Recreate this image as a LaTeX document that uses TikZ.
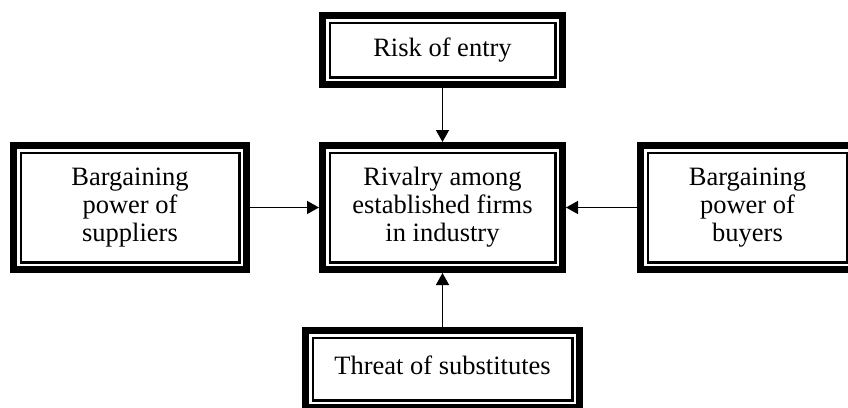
\documentclass[tikz,border=0pt]{standalone}
\usepackage{fontspec}
\setmainfont{Liberation Serif}
\usetikzlibrary{arrows.meta}
\begin{document}
\begin{tikzpicture}[x=1pt,y=-1pt,
  box/.style={rectangle, draw=none, outer sep=0pt, inner sep=0pt, align=center,
    font=\fontsize{26.5}{28}\selectfont},
  outerline/.style={line width=7pt},
  innerline/.style={line width=2.5pt},
  conn/.style={line width=1.4pt, -{Triangle[length=12pt,width=13pt]}}]
\useasboundingbox (0,0) rectangle (848,407);
\node[box, minimum width=247pt, minimum height=76pt] (risk) at (442.5,50) {Risk of entry};
\node[box, minimum width=247pt, minimum height=131pt] (rival) at (442.5,207.5) {Rivalry among\\established firms\\in industry};
\node[box, minimum width=240pt, minimum height=131pt] (supp) at (130,207.5) {Bargaining\\power of\\suppliers};
\node[box, minimum width=221pt, minimum height=131pt] (buy) at (747.5,207.5) {Bargaining\\power of\\buyers};
\node[box, minimum width=281pt, minimum height=84pt] (sub) at (442.5,369) {\raisebox{7pt}{Threat of substitutes}};
\foreach \n in {risk,rival,supp,buy,sub}{
  \draw[outerline] ([xshift=3.5pt,yshift=-3.5pt]\n.north west) rectangle ([xshift=-3.5pt,yshift=3.5pt]\n.south east);
  \draw[innerline] ([xshift=10.75pt,yshift=-10.75pt]\n.north west) rectangle ([xshift=-10.75pt,yshift=10.75pt]\n.south east);
}
\draw[conn] (risk.south) -- (rival.north);
\draw[conn] (sub.north) -- (rival.south);
\draw[conn] (supp.east) -- (rival.west);
\draw[conn] (buy.west) -- (rival.east);
\end{tikzpicture}
\end{document}
